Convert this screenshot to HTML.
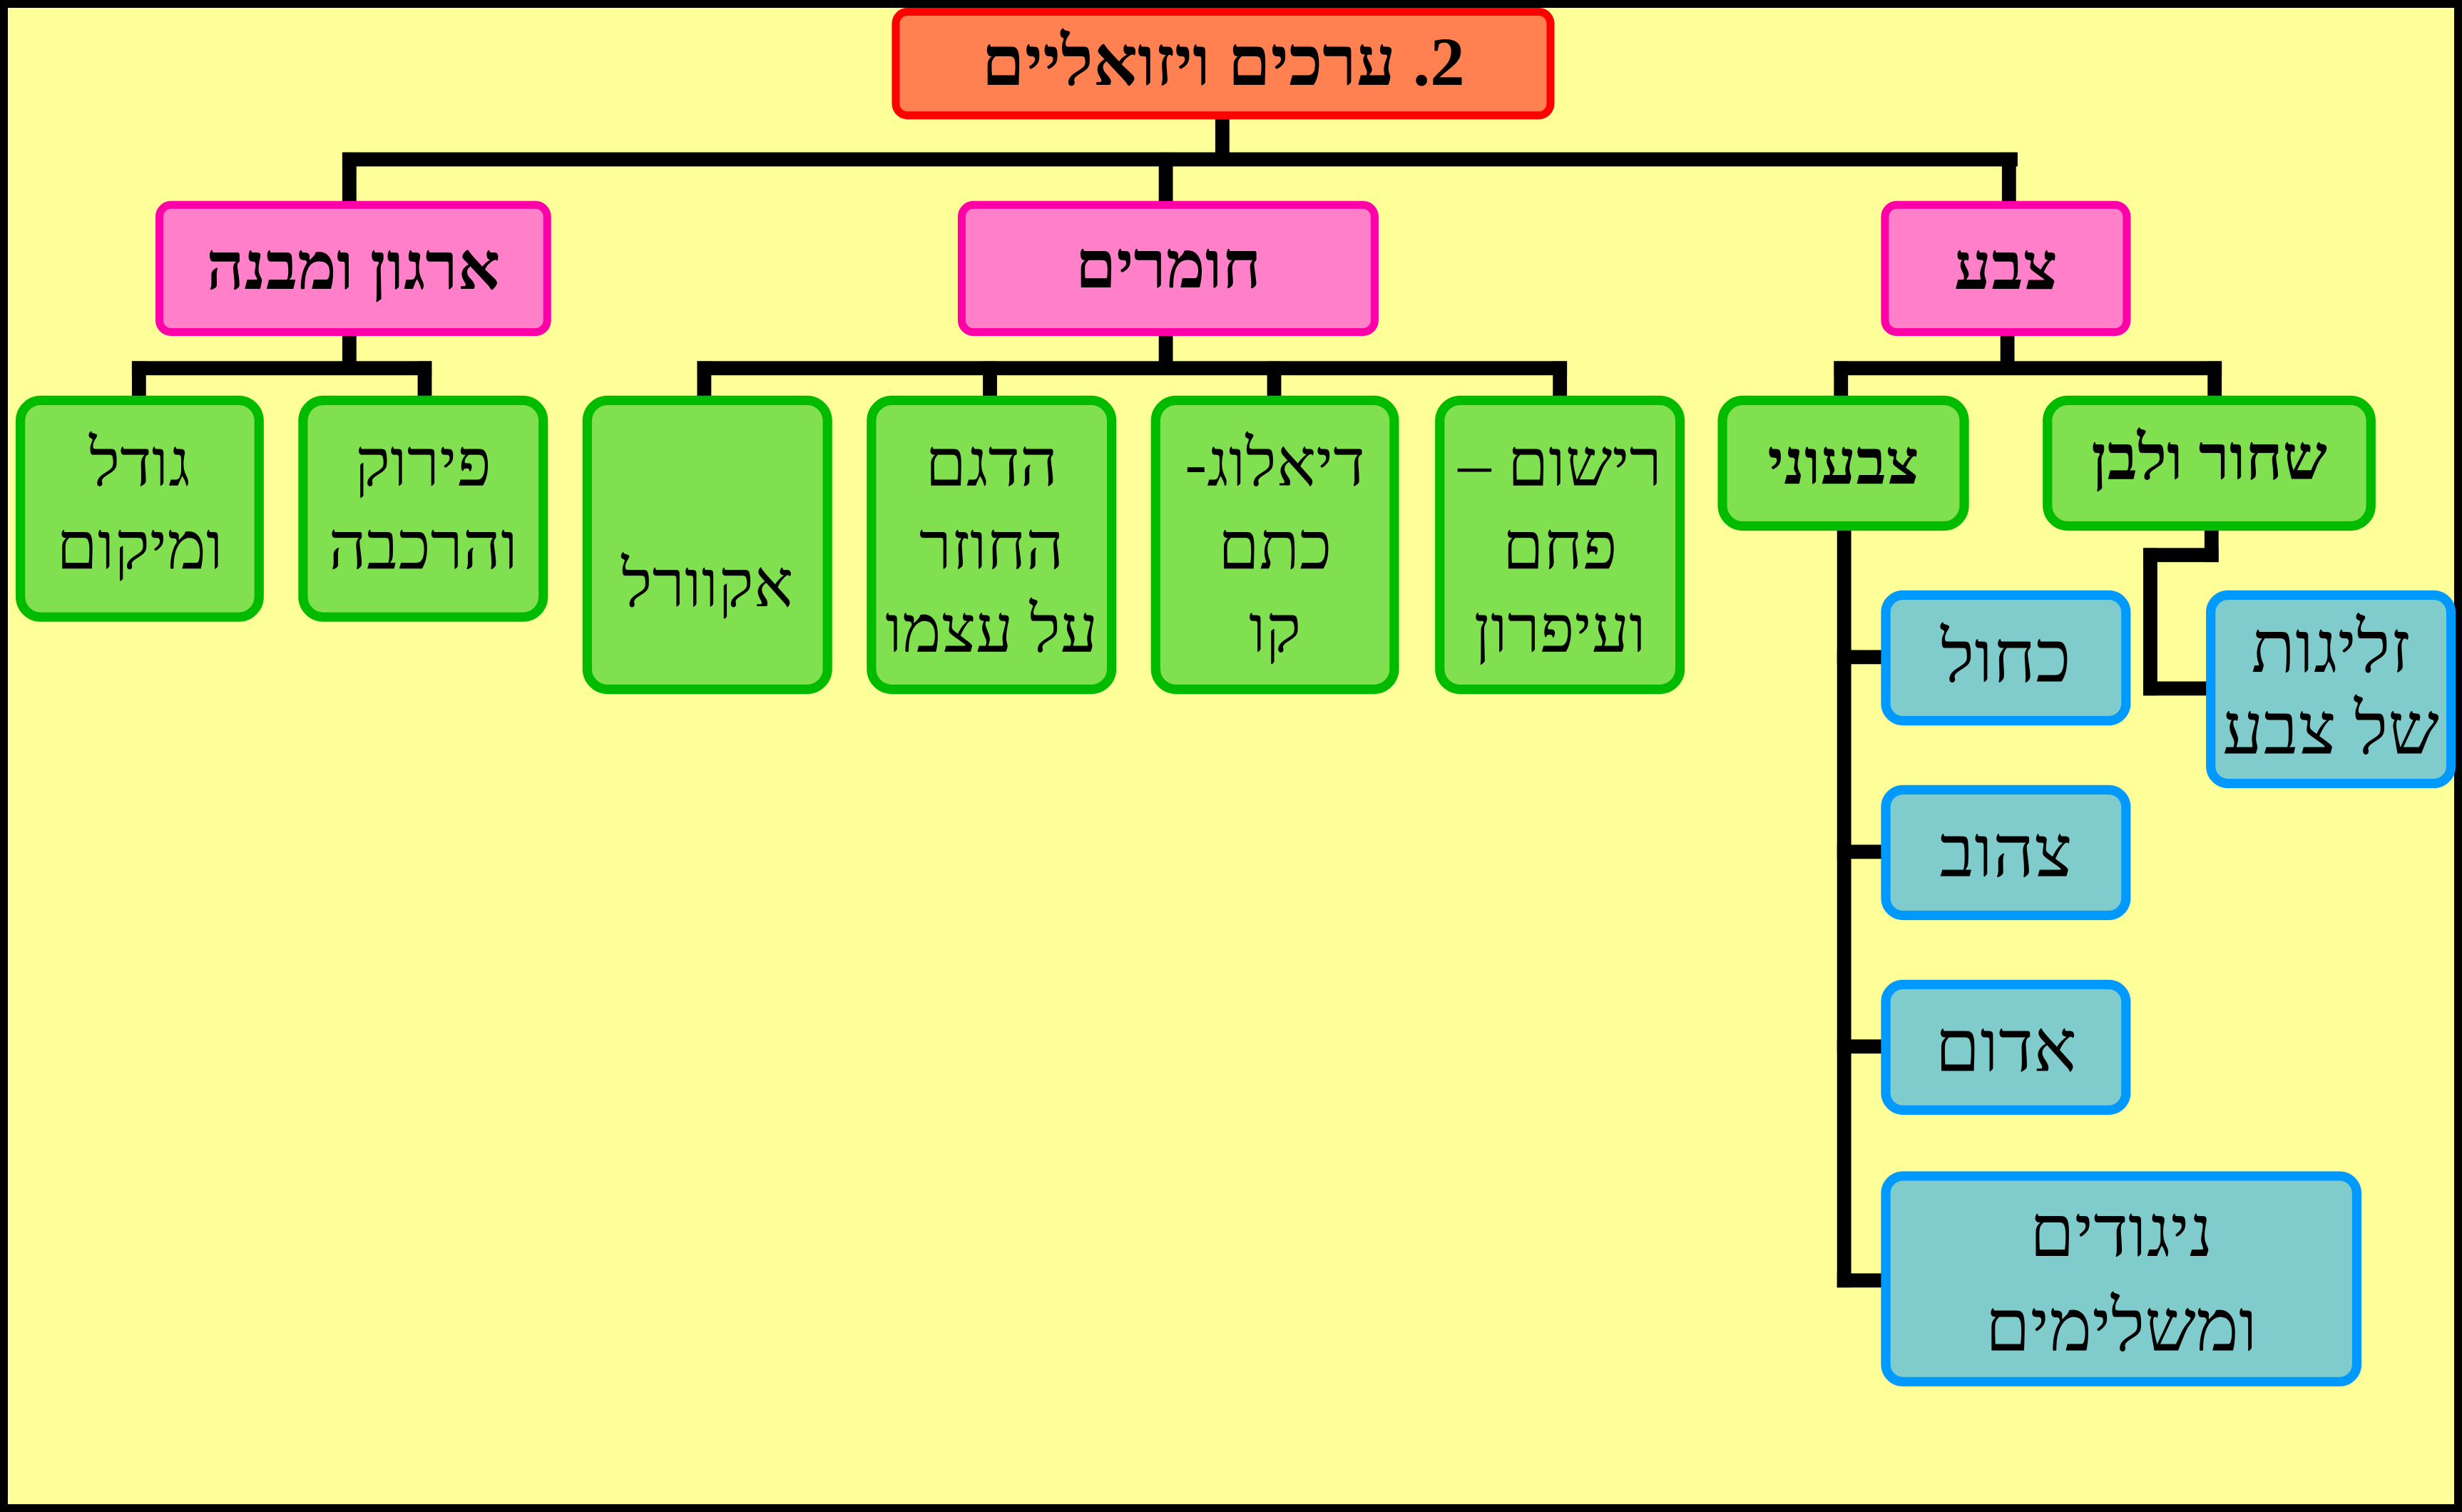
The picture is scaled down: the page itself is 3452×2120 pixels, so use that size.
<!DOCTYPE html>
<html><head><meta charset="utf-8">
<style>
html,body{margin:0;padding:0;background:#FFFF99;}
body{width:3452px;height:2120px;overflow:hidden;position:relative;}
#w{position:absolute;left:0;top:0;width:1568px;height:963px;transform:scale(2.2015);transform-origin:0 0;}
.frame{position:absolute;left:0;top:0;width:1558px;height:953px;border:5px solid #000;background:#FFFF99;}
.b{position:absolute;box-sizing:border-box;display:flex;flex-direction:column;align-items:center;justify-content:center;text-align:center;direction:rtl;font-family:"Liberation Serif","DejaVu Serif",serif;color:#000;line-height:1.2;white-space:nowrap;}
.t{background:#FF8050;border:5px solid #FF0000;border-radius:10px;font-weight:bold;font-size:44px;}
.p{background:#FF80C8;border:5px solid #FF00A8;border-radius:10px;font-weight:bold;font-size:42px;}
.g{background:#80E050;border:6px solid #00BB00;border-radius:16px;font-size:42px;}
.gt{justify-content:flex-start;padding-top:12px;line-height:53px;}
.u{background:#80CCCC;border:6px solid #0099FF;border-radius:14px;font-size:46px;}
.l{position:absolute;background:#000;}
</style></head><body>
<div id="w">
<div class="frame"></div>
<div class="l" style="left:774px;top:75px;width:9px;height:30px"></div>
<div class="l" style="left:218px;top:97px;width:1067px;height:9px"></div>
<div class="l" style="left:218px;top:97px;width:9px;height:32px"></div>
<div class="l" style="left:738px;top:97px;width:9px;height:32px"></div>
<div class="l" style="left:1275px;top:97px;width:9px;height:32px"></div>

<div class="l" style="left:218px;top:212px;width:9px;height:26px"></div>
<div class="l" style="left:84px;top:230px;width:191px;height:9px"></div>
<div class="l" style="left:84px;top:230px;width:9px;height:24px"></div>
<div class="l" style="left:266px;top:230px;width:9px;height:24px"></div>

<div class="l" style="left:738px;top:212px;width:9px;height:26px"></div>
<div class="l" style="left:444px;top:230px;width:554px;height:9px"></div>
<div class="l" style="left:444px;top:230px;width:9px;height:24px"></div>
<div class="l" style="left:626px;top:230px;width:9px;height:24px"></div>
<div class="l" style="left:807px;top:230px;width:9px;height:24px"></div>
<div class="l" style="left:989px;top:230px;width:9px;height:24px"></div>

<div class="l" style="left:1274px;top:212px;width:9px;height:26px"></div>
<div class="l" style="left:1168px;top:230px;width:247px;height:9px"></div>
<div class="l" style="left:1168px;top:230px;width:9px;height:24px"></div>
<div class="l" style="left:1406px;top:230px;width:9px;height:24px"></div>

<div class="l" style="left:1404px;top:336px;width:9px;height:22px"></div>
<div class="l" style="left:1365px;top:349px;width:48px;height:9px"></div>
<div class="l" style="left:1365px;top:349px;width:9px;height:94px"></div>
<div class="l" style="left:1365px;top:434px;width:42px;height:9px"></div>

<div class="l" style="left:1170px;top:336px;width:9px;height:484px"></div>
<div class="l" style="left:1170px;top:414px;width:30px;height:9px"></div>
<div class="l" style="left:1170px;top:538px;width:30px;height:9px"></div>
<div class="l" style="left:1170px;top:662px;width:30px;height:9px"></div>
<div class="l" style="left:1170px;top:811px;width:30px;height:9px"></div>

<div class="b t" style="left:568px;top:5px;width:422px;height:71px">2. ערכים ויזואליים</div>
<div class="b p" style="left:99px;top:128px;width:252px;height:86px">ארגון ומבנה</div>
<div class="b p" style="left:610px;top:128px;width:268px;height:86px;justify-content:flex-start;padding-top:12px">חומרים</div>
<div class="b p" style="left:1198px;top:128px;width:159px;height:86px">צבע</div>

<div class="b g gt" style="left:10px;top:252px;width:158px;height:144px">גודל<br>ומיקום</div>
<div class="b g gt" style="left:190px;top:252px;width:159px;height:144px">פירוק<br>והרכבה</div>
<div class="b g" style="left:371px;top:252px;width:159px;height:190px;padding-top:52px">אקוורל</div>
<div class="b g gt" style="left:552px;top:252px;width:159px;height:190px">הדגם<br>החוזר<br>על עצמו</div>
<div class="b g gt" style="left:733px;top:252px;width:158px;height:190px">דיאלוג-<br>כתם<br>קו</div>
<div class="b g gt" style="left:914px;top:252px;width:159px;height:190px">רישום –<br>פחם<br>ועיפרון</div>

<div class="b g" style="left:1094px;top:252px;width:160px;height:86px;font-weight:bold;font-size:40px">צבעוני</div>
<div class="b g" style="left:1301px;top:252px;width:212px;height:86px;font-weight:bold;font-size:40px;justify-content:flex-start;padding-top:10px">שחור ולבן</div>

<div class="b u" style="left:1405px;top:376px;width:159px;height:126px;line-height:52px">זליגות<br>של צבע</div>
<div class="b u" style="left:1198px;top:376px;width:159px;height:86px">כחול</div>
<div class="b u" style="left:1198px;top:500px;width:159px;height:86px">צהוב</div>
<div class="b u" style="left:1198px;top:624px;width:159px;height:86px">אדום</div>
<div class="b u" style="left:1198px;top:746px;width:306px;height:137px;line-height:60px">ניגודים<br>ומשלימים</div>
</div>
</body></html>
